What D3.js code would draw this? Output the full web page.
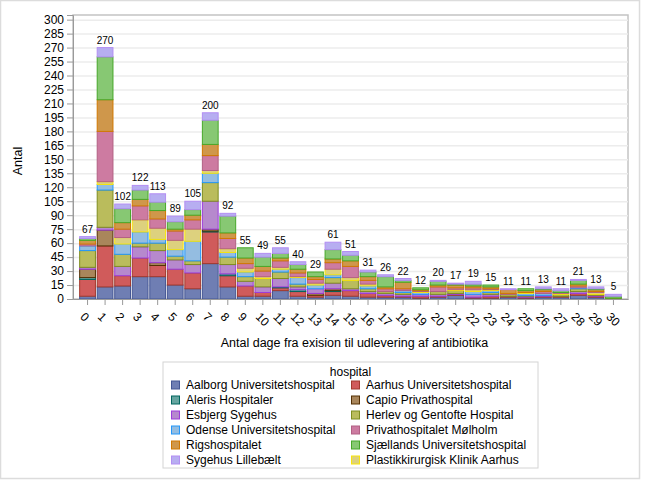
<!DOCTYPE html>
<html>
<head>
<meta charset="utf-8">
<script src="https://cdn.jsdelivr.net/npm/d3@7"></script>
<style>
body { margin: 0; background: #fff; }
text { font-family: "Liberation Sans", Arial, sans-serif; fill: #000; }
</style>
</head>
<body>
<svg width="646" height="481"></svg>
<script>
// kategorier: antal dage
const days = ['0','1','2','3','4','5','6','7','8','9','10','11','12','13','14','15',
    '16','17','18','19','20','21','22','23','24','25','26','27','28','29','30'];

// hospitaler i legend-rækkefølge (farve-rækkefølge)
const hospitals = [
    'Aalborg Universitetshospital', 'Aarhus Universitetshospital',
    'Aleris Hospitaler', 'Capio Privathospital',
    'Esbjerg Sygehus', 'Herlev og Gentofte Hospital',
    'Odense Universitetshospital', 'Privathospitalet Mølholm',
    'Rigshospitalet', 'Sjællands Universitetshospital',
    'Sygehus Lillebælt', 'Plastikkirurgisk Klinik Aarhus'
];

// værdier, en liste pr. hospital (dag 0..30)
const aalborg    = [3,13,14,24,24,15,11,38,13,3,3,9,3,2,4,3,2,2,2,1,2,4,1,1,2,1,2,2,4,2,0];
const aarhus     = [18,44,11,20,12,17,17,34,12,11,4,3,5,2,4,6,4,2,1,2,1,1,1,2,1,1,1,1,2,1,0];
const aleris     = [2,0,0,0,0,0,0,1,2,0,0,1,2,0,1,0,0,0,0,0,0,0,0,0,0,0,0,0,0,0,0];
const capio      = [9,17,0,0,3,0,0,2,0,0,0,0,0,2,2,0,0,0,0,0,0,0,0,0,0,0,0,0,0,0,0];
const esbjerg    = [2,3,10,12,13,10,9,30,10,5,6,9,3,5,6,2,2,2,2,2,2,1,3,2,0,1,1,0,2,1,0];
const herlev     = [18,40,13,4,8,4,4,20,8,5,9,7,3,0,6,9,3,2,2,0,3,3,0,2,2,1,0,2,3,1,1];
const odense     = [5,6,11,12,4,7,21,10,5,5,0,3,7,4,3,0,3,0,2,2,0,0,3,2,0,2,2,0,1,0,0];
const plastik    = [0,3,7,13,12,10,13,3,4,4,2,2,1,2,6,3,2,0,0,1,0,1,2,1,0,1,0,1,0,2,0];
const molholm    = [2,54,9,15,10,10,10,16,11,5,6,7,4,4,7,12,4,3,2,1,5,2,2,1,1,0,2,1,2,1,0];
const rigs       = [4,34,7,7,9,2,5,12,6,6,5,3,4,3,4,6,4,2,7,1,2,3,2,2,4,2,2,0,2,2,0];
const sjaelland  = [2,46,15,10,9,8,6,26,18,11,10,5,5,5,10,6,5,11,2,2,4,1,2,2,0,2,1,2,4,1,2];
const lillebaelt = [2,10,5,5,9,6,9,8,3,0,4,6,3,0,8,4,2,2,2,0,1,1,3,0,1,0,2,2,1,2,2];

const yTicks = d3.range(0, 301, 15);

const seriesByName = {
    'Aalborg Universitetshospital': aalborg,
    'Aarhus Universitetshospital': aarhus,
    'Aleris Hospitaler': aleris,
    'Capio Privathospital': capio,
    'Esbjerg Sygehus': esbjerg,
    'Herlev og Gentofte Hospital': herlev,
    'Odense Universitetshospital': odense,
    'Plastikkirurgisk Klinik Aarhus': plastik,
    'Privathospitalet Mølholm': molholm,
    'Rigshospitalet': rigs,
    'Sjællands Universitetshospital': sjaelland,
    'Sygehus Lillebælt': lillebaelt
};

const fills = ['#6F7EB3','#D05B5B','#66A5A0','#A9865B','#B689CD','#BABC5C',
    '#94BDE1','#CD7BA1','#CF974B','#87C873','#B7AEF1','#DDD17E'];
const lines = ['#445694','#A23A2E','#01665E','#543005','#9D3CDB','#7F8E1F',
    '#2597FA','#B26084','#D17800','#47A82A','#B38EF3','#F9E50A'];

const svg = d3.select('svg');
const width = +svg.attr('width');
const height = +svg.attr('height');

const margin = {top: 15, right: 18, bottom: 182, left: 73};
const innerWidth = width - margin.left - margin.right;
const innerHeight = height - margin.top - margin.bottom;

// ydre ramme
svg.append('rect')
    .attr('x', 0.5).attr('y', 0.5)
    .attr('width', 639).attr('height', 478)
    .attr('fill', 'none')
    .attr('stroke', '#dcdcdc')
    .attr('stroke-width', 1.5);

// stak-rækkefølge er alfabetisk
const stackOrder = Object.keys(seriesByName);
const table = days.map((d, i) => {
    const row = {day: d};
    stackOrder.forEach(k => row[k] = seriesByName[k][i]);
    return row;
});
const stacked = d3.stack().keys(stackOrder)(table);
const totals = table.map(r => d3.sum(stackOrder, k => r[k]));

const color = d3.scaleOrdinal().domain(hospitals).range(fills);
const lineColor = d3.scaleOrdinal().domain(hospitals).range(lines);

const xScale = d3.scaleBand()
    .domain(days)
    .range([0, innerWidth])
    .paddingInner(0.1)
    .paddingOuter(0.38);

const yScale = d3.scaleLinear()
    .domain([0, 305])
    .range([innerHeight, 0]);

const g = svg.append('g')
    .attr('transform', `translate(${margin.left}, ${margin.top})`);

// plot-væg
g.append('rect')
    .attr('width', innerWidth).attr('height', innerHeight)
    .attr('fill', '#fff')
    .attr('stroke', '#c4c4c4')
    .attr('stroke-width', 1.5);

// gitterlinjer
const gridG = g.append('g')
    .call(d3.axisLeft(yScale).tickValues(yTicks.slice(1)).tickSize(-innerWidth).tickFormat(''));
gridG.select('.domain').remove();
gridG.selectAll('line')
    .attr('stroke', '#ececec')
    .attr('stroke-width', 1.5);

// søjler
g.selectAll('g.layer').data(stacked)
    .enter().append('g')
    .attr('class', 'layer')
    .attr('fill', d => color(d.key))
    .attr('stroke', d => lineColor(d.key))
    .selectAll('rect').data(d => d.filter(s => s[1] > s[0]))
    .enter().append('rect')
    .attr('x', d => xScale(d.data.day))
    .attr('width', xScale.bandwidth())
    .attr('y', d => yScale(d[1]))
    .attr('height', d => yScale(d[0]) - yScale(d[1]))
    .attr('stroke-width', 1);

// total-etiketter
g.selectAll('text.total').data(days)
    .enter().append('text')
    .attr('class', 'total')
    .attr('x', d => xScale(d) + xScale.bandwidth() / 2)
    .attr('y', (d, i) => yScale(totals[i]) - 4)
    .attr('text-anchor', 'middle')
    .style('font-size', '10px')
    .text((d, i) => totals[i]);

// y-akse
const yAxisG = g.append('g')
    .call(d3.axisLeft(yScale).tickValues(yTicks).tickSize(6).tickPadding(3));
yAxisG.select('.domain').attr('stroke', '#9a9a9a');
yAxisG.selectAll('line').attr('stroke', '#9a9a9a');
yAxisG.selectAll('text').style('font-size', '12px');

g.append('text')
    .attr('transform', `translate(${22 - margin.left}, ${innerHeight / 2 + 4}) rotate(-90)`)
    .attr('text-anchor', 'middle')
    .style('font-size', '12.5px')
    .text('Antal');

// x-akse
const xAxisG = g.append('g')
    .attr('transform', `translate(0, ${innerHeight})`)
    .call(d3.axisBottom(xScale).tickSize(6).tickSizeOuter(0));
xAxisG.select('.domain').attr('stroke', '#9a9a9a');
xAxisG.selectAll('line').attr('stroke', '#9a9a9a');
xAxisG.selectAll('text')
    .attr('x', null).attr('y', null).attr('dy', '0.35em')
    .attr('text-anchor', 'start')
    .attr('transform', 'translate(-5, 15.5) rotate(45)')
    .style('font-size', '12px');

g.append('text')
    .attr('x', innerWidth / 2 + 4)
    .attr('y', innerHeight + 48)
    .attr('text-anchor', 'middle')
    .style('font-size', '12.5px')
    .text('Antal dage fra exision til udlevering af antibiotika');

// legend
const legend = svg.append('g').attr('transform', 'translate(163, 362)');
legend.append('rect')
    .attr('width', 375).attr('height', 106)
    .attr('fill', '#fff')
    .attr('stroke', '#d4d4d4');
legend.append('text')
    .attr('x', 187.5).attr('y', 14)
    .attr('text-anchor', 'middle')
    .style('font-size', '12px')
    .text('hospital');

const item = legend.selectAll('g.item').data(hospitals)
    .enter().append('g')
    .attr('class', 'item')
    .attr('transform', (d, i) => `translate(${i % 2 === 0 ? 8 : 188}, ${23 + Math.floor(i / 2) * 15})`);
item.append('rect')
    .attr('x', 0.5).attr('y', -4)
    .attr('width', 8).attr('height', 8)
    .attr('fill', d => color(d))
    .attr('stroke', d => lineColor(d));
item.append('text')
    .attr('x', 15).attr('dy', '0.35em')
    .style('font-size', '12px')
    .text(d => d);
</script>
</body>
</html>
